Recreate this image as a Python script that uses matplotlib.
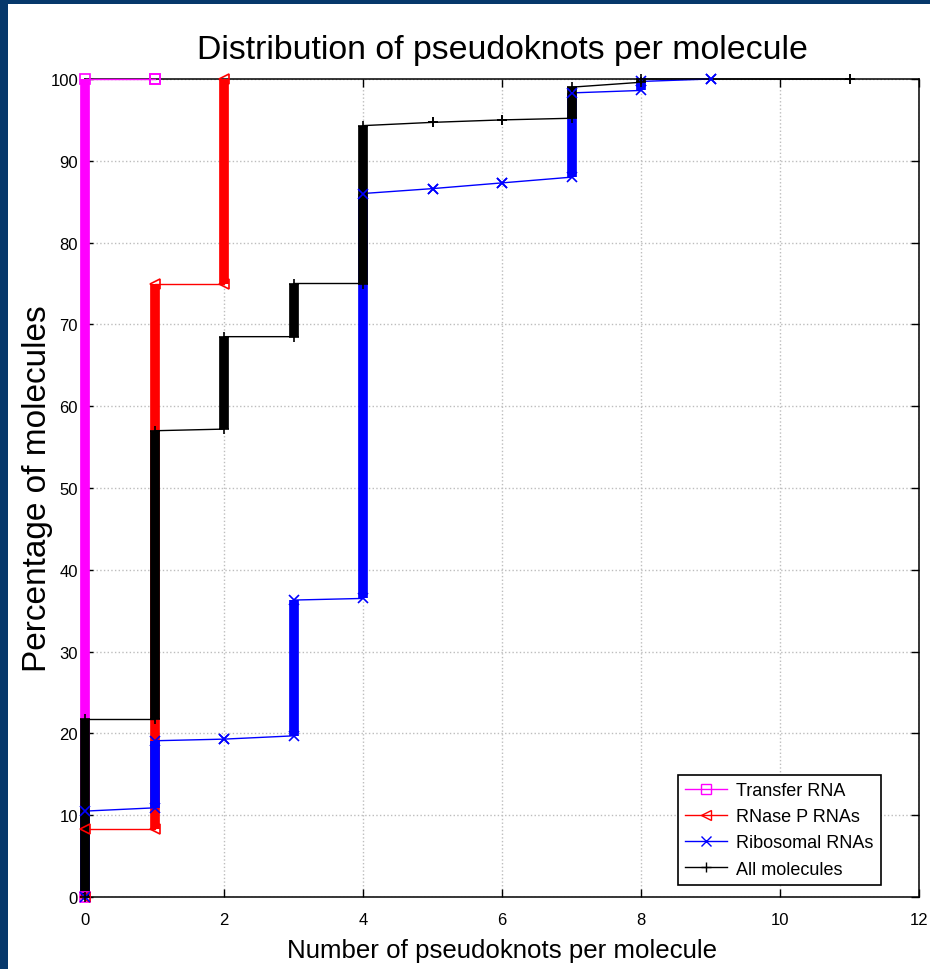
import matplotlib.pyplot as plt
from matplotlib.patches import Rectangle
from matplotlib.lines import Line2D

plt.rcParams['font.family'] = ['Liberation Sans', 'DejaVu Sans']

# number of pseudoknots and the bottom / top of each step (% of molecules)
trna_x = [0, 1]
trna_lo = [0, 100]
trna_hi = [100, 100]

rnase_x = [0, 1, 2]
rnase_lo = [0, 8.3, 75.0]
rnase_hi = [8.3, 75.0, 100]

ribo_x = [0, 1, 2, 3, 4, 5, 6, 7, 8, 9]
ribo_lo = [0, 10.9, 19.3, 19.7, 36.5, 86.6, 87.3, 88.0, 98.6, 100]
ribo_hi = [10.5, 19.1, 19.3, 36.3, 86.0, 86.6, 87.3, 98.3, 99.7, 100]

all_x = [0, 1, 2, 3, 4, 5, 6, 7, 8, 11]
all_lo = [0, 21.7, 57.2, 68.5, 75.0, 94.7, 95.0, 95.2, 99.6, 100]
all_hi = [21.7, 57.0, 68.5, 75.0, 94.3, 94.7, 95.0, 99.0, 100, 100]

series = [
    ("Transfer RNA", trna_x, trna_lo, trna_hi, "#ff00ff", "s"),
    ("RNase P RNAs", rnase_x, rnase_lo, rnase_hi, "#ff0000", "<"),
    ("Ribosomal RNAs", ribo_x, ribo_lo, ribo_hi, "#0000ff", "x"),
    ("All molecules", all_x, all_lo, all_hi, "#000000", "+"),
]

fig = plt.figure(figsize=(9.3, 9.7), dpi=100, facecolor="#06386b")
fig.patches.append(Rectangle((8 / 930, 0), 1, 1 - 5 / 970, transform=fig.transFigure,
                             facecolor="white", edgecolor="none", zorder=-10))
ax = fig.add_axes([85 / 930, 1 - 898 / 970, 834 / 930, 818 / 970])

handles = []
for name, xs, lo, hi, col, mk in series:
    px, py = [], []
    for x, a, b in zip(xs, lo, hi):
        px += [x, x]
        py += [a, b]
    # thick vertical steps (stacked markers in the original)
    ax.vlines(xs, lo, hi, colors=col, linewidth=7, zorder=3, clip_on=False)
    ax.plot(px, py, color=col, linewidth=1.0, zorder=3, clip_on=False)
    ax.plot(px, py, linestyle="none", marker=mk, color=col, markersize=7,
            markerfacecolor="none", markeredgewidth=1.2, zorder=4, clip_on=False)
    handles.append(Line2D([], [], color=col, marker=mk, markerfacecolor="none",
                          markersize=7, linewidth=1.0, label=name))

ax.set_xlim(0, 12)
ax.set_ylim(0, 100)
ax.set_xticks(range(0, 13, 2))
ax.set_yticks(range(0, 101, 10))
ax.grid(True, linestyle=":", color="#bdbdbd", linewidth=1)
ax.tick_params(direction="in", top=True, right=True, length=6, width=1,
               labelsize=12)
ax.tick_params(axis="x", pad=11)
ax.tick_params(axis="y", pad=5)
for s in ax.spines.values():
    s.set_linewidth(1.1)

ax.set_title("Distribution of pseudoknots per molecule", fontsize=24.4, pad=15)
ax.set_xlabel("Number of pseudoknots per molecule", fontsize=18.6, labelpad=8)
ax.set_ylabel("Percentage of molecules", fontsize=24, labelpad=-2)

leg = ax.legend(handles=handles, loc="lower right", bbox_to_anchor=(0.954, 0.015),
                borderaxespad=0, fontsize=13, fancybox=False, framealpha=1,
                edgecolor="black", handlelength=2.3, labelspacing=0.5,
                borderpad=0.4, handletextpad=0.5)
leg.get_frame().set_linewidth(1.2)

fig.savefig("out.png", dpi=100, facecolor=fig.get_facecolor())
